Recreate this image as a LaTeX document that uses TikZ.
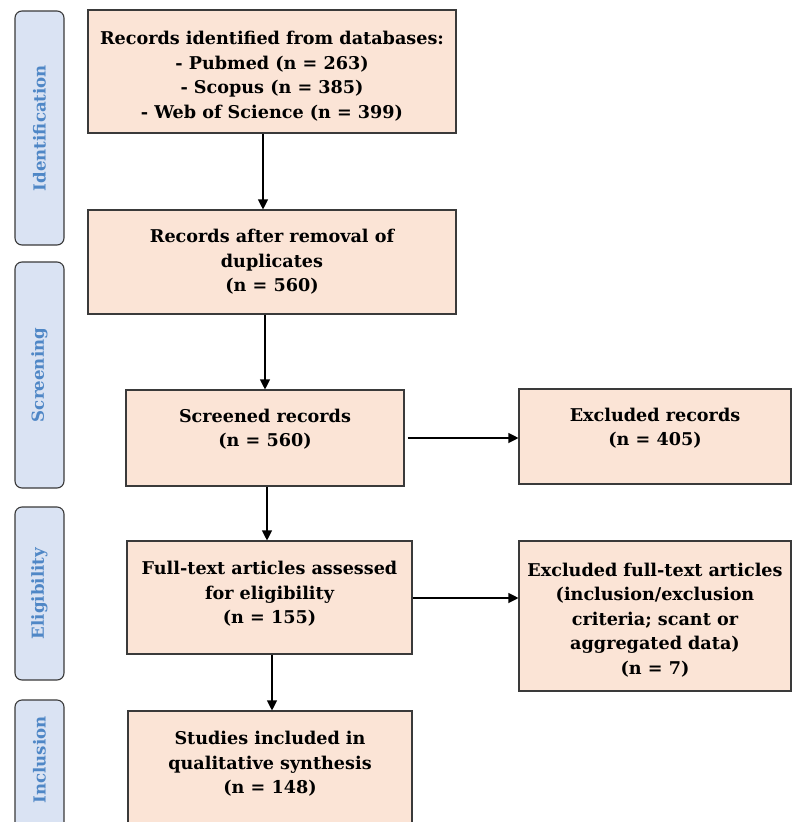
\documentclass[tikz,border=0pt]{standalone}
\usepackage{fontspec}
\setmainfont{DejaVu Serif}
\usetikzlibrary{arrows.meta}
\definecolor{peach}{HTML}{FBE4D6}
\definecolor{sidefill}{HTML}{DAE3F3}
\definecolor{sidetext}{HTML}{4F87C6}
\definecolor{edge}{HTML}{3A3A3A}
\begin{document}
\begin{tikzpicture}[x=1pt,y=-1pt,
  box/.style={draw=edge, line width=1.1pt, fill=peach, inner sep=0pt},
  txt/.style={align=center, font=\fontsize{17.6}{24.5}\selectfont\bfseries, inner sep=0pt},
  side/.style={draw=edge, line width=1.1pt, fill=sidefill, rounded corners=7pt, minimum width=49pt, inner sep=0pt},
  sidelbl/.style={rotate=90, text=sidetext, font=\fontsize{16.6}{18}\selectfont\bfseries, inner sep=0pt},
  arr/.style={draw=black, line width=1.1pt, -{Triangle[length=10pt,width=10pt]}}]
\clip (0,0) rectangle (792,822);
\fill[white] (0,0) rectangle (792,822);
% side phase boxes
\node[side, minimum height=234pt] (sid) at (39.5,128) {};
\node[sidelbl] (sidt) at (sid.center) {Identification};
\node[side, minimum height=226pt] (sscr) at (39.5,375) {};
\node[sidelbl] (sscrt) at (sscr.center) {Screening};
\node[side, minimum height=173pt] (sel) at (39.5,593.5) {};
\node[sidelbl] (selt) at (sel.center) {Eligibility};
\node[side, minimum height=150pt] (sinc) at (39.5,775) {};
\node[sidelbl] (sinct) at (39.5,760) {Inclusion};
% main boxes
\node[box, minimum width=368pt, minimum height=123pt] (b1) at (272,71.5) {};
\node[txt] (b1t) at (272,76) {Records identified from databases:\\- Pubmed (n = 263)\\- Scopus (n = 385)\\- Web of Science (n = 399)};
\node[box, minimum width=368pt, minimum height=104pt] (b2) at (272,262) {};
\node[txt] (b2t) at (272,262) {Records after removal of\\duplicates\\(n = 560)};
\node[box, minimum width=278pt, minimum height=96pt] (b3) at (265,438) {};
\node[txt] (b3t) at (265,429) {Screened records\\(n = 560)};
\node[box, minimum width=272pt, minimum height=95pt] (ex1) at (655,436.5) {};
\node[txt] (ex1t) at (655,428) {Excluded records\\(n = 405)};
\node[box, minimum width=285pt, minimum height=113pt] (b4) at (269.5,597.5) {};
\node[txt] (b4t) at (269.5,594) {Full-text articles assessed\\for eligibility\\(n = 155)};
\node[box, minimum width=272pt, minimum height=150pt] (ex2) at (655,616) {};
\node[txt] (ex2t) at (655,620) {Excluded full-text articles\\(inclusion/exclusion\\criteria; scant or\\aggregated data)\\(n = 7)};
\node[box, minimum width=284pt, minimum height=139pt] (b5) at (270,780.5) {};
\node[txt] (b5t) at (270,764) {Studies included in\\qualitative synthesis\\(n = 148)};
% connectors
\coordinate (c1) at (263,0);
\coordinate (c3) at (267,0);
\coordinate (c4) at (272,0);
\coordinate (h1) at (0,438);
\coordinate (h2) at (0,598);
\draw[arr] (b1.south -| c1) -- (b2.north -| c1);
\draw[arr] (b2.south -| b3.north) -- (b3.north);
\draw[arr] (b3.south -| c3) -- (b4.north -| c3);
\draw[arr] (b4.south -| c4) -- (b5.north -| c4);
\draw[arr] ([xshift=3pt]b3.east |- h1) -- (ex1.west |- h1);
\draw[arr] (b4.east |- h2) -- (ex2.west |- h2);
\end{tikzpicture}
\end{document}
